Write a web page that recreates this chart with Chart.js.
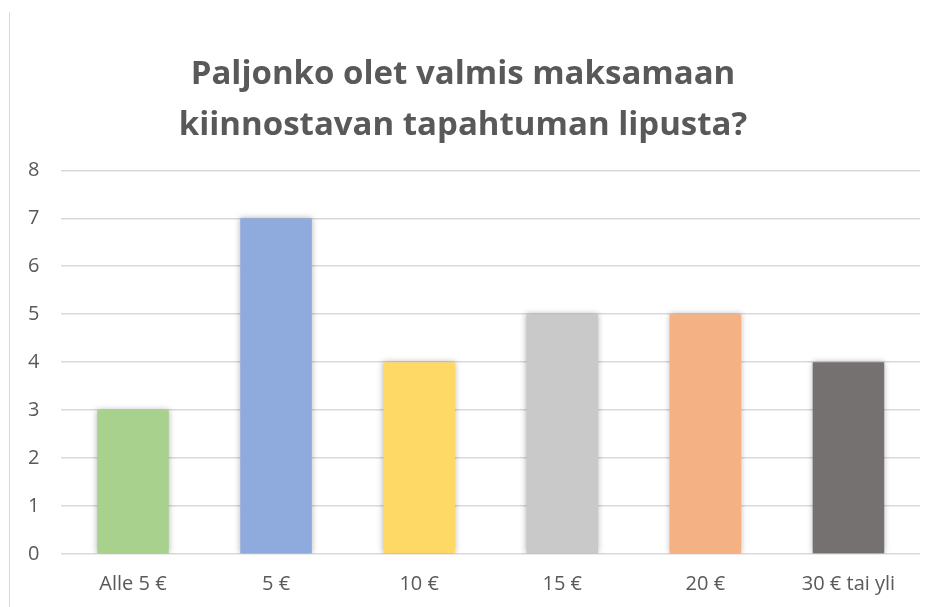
<!DOCTYPE html>
<html>
<head>
<meta charset="utf-8">
<script src="https://cdn.jsdelivr.net/npm/chart.js@4"></script>
<style>
  html, body { margin: 0; padding: 0; background: #fff; }
  #wrap { position: relative; width: 937px; height: 607px; }
  #edge { position: absolute; left: 9px; top: 12px; width: 1px; height: 595px; background: #d9d9d9; }
  canvas { display: block; }
</style>
</head>
<body>
<div id="wrap">
  <div id="edge"></div>
  <canvas id="myChart" width="937" height="607"></canvas>
</div>
<script>
  const categories = ['Alle 5 €', '5 €', '10 €', '15 €', '20 €', '30 € tai yli'];
  const answers = [3, 7, 4, 5, 5, 4];
  const barColors = ['#A9D18E', '#8FAADC', '#FFD966', '#C9C9C9', '#F4B183', '#767171'];
  const titleLines = ['Paljonko olet valmis maksamaan', 'kiinnostavan tapahtuman lipusta?'];

  const shadow = {
    id: 'shadow',
    beforeDatasetDraw(chart) {
      const c = chart.ctx;
      c.save();
      c.shadowColor = 'rgba(0,0,0,0.3)';
      c.shadowBlur = 6;
    },
    afterDatasetDraw(chart) {
      chart.ctx.restore();
    }
  };

  const ctx = document.getElementById('myChart');

  new Chart(ctx, {
    type: 'bar',
    data: {
      labels: categories,
      datasets: [{
        label: 'Vastaukset',
        data: answers,
        backgroundColor: barColors,
        borderWidth: 0,
        barPercentage: 0.5,
        categoryPercentage: 1
      }]
    },
    options: {
      responsive: false,
      animation: false,
      layout: { padding: { left: 6, right: 17, top: 50, bottom: 0 } },
      plugins: {
        legend: { display: false },
        tooltip: { enabled: false },
        title: {
          display: true,
          text: titleLines,
          color: '#595959',
          font: { family: 'Open Sans', size: 33, weight: 'bold', lineHeight: 1.52 },
          padding: { top: 0, bottom: 20 }
        }
      },
      scales: {
        x: {
          grid: { display: false, drawTicks: false },
          border: { display: false },
          ticks: { color: '#595959', font: { family: 'Open Sans', size: 20, lineHeight: 0.6 }, padding: 24 },
          afterFit(scale) { scale.height = 53; }
        },
        y: {
          min: 0,
          max: 8,
          ticks: { stepSize: 1, color: '#595959', font: { family: 'Open Sans', size: 20 }, padding: 22 },
          grid: { color: '#d9d9d9', lineWidth: 1.5, drawTicks: false },
          border: { display: false }
        }
      }
    },
    plugins: [shadow]
  });
</script>
</body>
</html>
